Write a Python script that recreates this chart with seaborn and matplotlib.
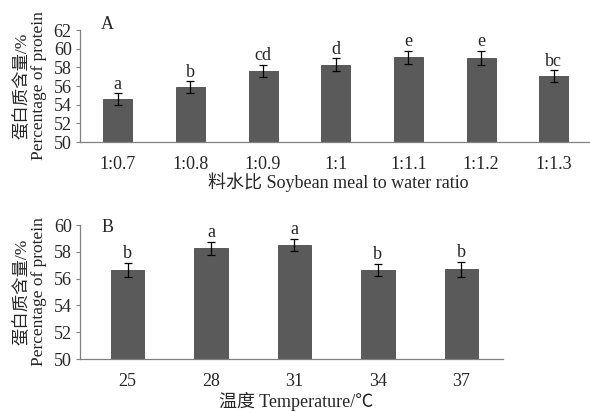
import matplotlib
matplotlib.use("Agg")
import matplotlib.pyplot as plt
import seaborn as sns
import pandas as pd

# Panel A data
ratio_labels = ["1:0.7", "1:0.8", "1:0.9", "1:1", "1:1.1", "1:1.2", "1:1.3"]
ratio_values = [54.6, 55.85, 57.65, 58.3, 59.1, 59.05, 57.05]
ratio_errors = [0.6, 0.65, 0.65, 0.65, 0.7, 0.75, 0.65]
ratio_letters = ["a", "b", "cd", "d", "e", "e", "bc"]

# Panel B data
temp_labels = ["25", "28", "31", "34", "37"]
temp_values = [56.65, 58.25, 58.5, 56.65, 56.7]
temp_errors = [0.55, 0.5, 0.45, 0.45, 0.55]
temp_letters = ["b", "a", "a", "b", "b"]

sns.set_theme(style="white")
plt.rcParams['font.family'] = ['Liberation Serif', 'Noto Sans CJK SC', 'DejaVu Sans']

fig = plt.figure(figsize=(5.9, 4.12), dpi=100)
axA = fig.add_axes([0.1356, 0.6553, 0.862, 0.2718])
axB = fig.add_axes([0.1356, 0.1286, 0.717, 0.3252])

bar_color = "#5a5a5a"
spine_color = "#808080"
fs = 13
lfs = 12.5


def draw(ax, labels, values, errors, letters, yticks, ylim, xlim, xlabel, xlabel_xy,
         panel, panel_x, panel_y, letter_off):
    df = pd.DataFrame({"cat": labels, "val": values})
    sns.barplot(data=df, x="cat", y="val", ax=ax, color=bar_color, width=0.4,
                errorbar=None, saturation=1, edgecolor="#4a4a4a", linewidth=0.6)
    ax.errorbar(range(len(values)), values, yerr=errors, fmt="none",
                ecolor="black", elinewidth=0.9, capsize=3, capthick=0.9)
    for i, (v, e, t) in enumerate(zip(values, errors, letters)):
        ax.text(i, v + e + letter_off, t, ha="center", va="bottom", fontsize=fs)
    ax.set_ylim(*ylim)
    ax.set_xlim(*xlim)
    ax.set_yticks(yticks)
    ax.set_yticklabels([str(t) for t in yticks], fontsize=fs)
    ax.tick_params(axis="y", left=True, length=3, width=0.8, color=spine_color, pad=3)
    ax.tick_params(axis="x", bottom=False, labelsize=fs, pad=4)
    for s in ["top", "right"]:
        ax.spines[s].set_visible(False)
    for s in ["left", "bottom"]:
        ax.spines[s].set_color(spine_color)
        ax.spines[s].set_linewidth(0.9)
    ax.set_xlabel(xlabel, fontsize=fs)
    ax.xaxis.set_label_coords(*xlabel_xy)
    ax.set_ylabel("蛋白质含量/%\nPercentage of protein", fontsize=lfs, labelpad=5, linespacing=1.05)
    ax.text(panel_x, panel_y, panel, transform=ax.transAxes,
            fontsize=fs, ha="center", va="center", clip_on=False)


draw(axA, ratio_labels, ratio_values, ratio_errors, ratio_letters,
     [50, 52, 54, 56, 58, 60, 62], (50, 62), (-0.52, 6.48),
     "料水比 Soybean meal to water ratio", (0.508, -0.27), "A", 0.053, 1.05, 0.05)
draw(axB, temp_labels, temp_values, temp_errors, temp_letters,
     [50, 52, 54, 56, 58, 60], (50, 60), (-0.57, 4.5),
     "温度 Temperature/℃", (0.51, -0.245), "B", 0.064, 0.98, 0.05)

fig.savefig("out.png", dpi=100, facecolor="white")
